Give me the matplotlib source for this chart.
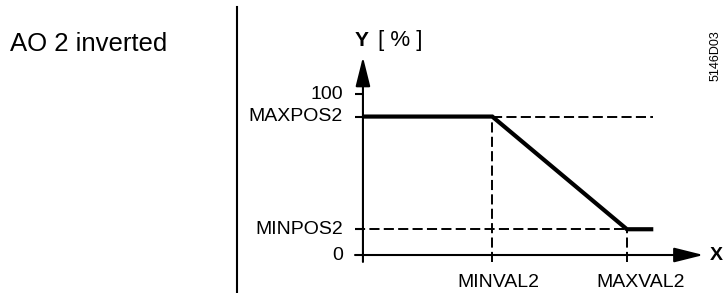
import matplotlib
matplotlib.use("Agg")
import matplotlib.pyplot as plt

plt.rcParams['font.family'] = ['Liberation Sans', 'DejaVu Sans']

# characteristic curve (x in % of MAXVAL2, y in %)
curve_x = [0, 49, 100, 110]
curve_y = [86, 86, 16, 16]

y_ticks = [0, 16, 86, 100]
y_labels = ['0', 'MINPOS2', 'MAXPOS2', '100']
x_ticks = [49, 100]
x_labels = ['MINVAL2', 'MAXVAL2']

minval, maxval = x_ticks
minpos, maxpos = 16, 86

fig = plt.figure(figsize=(7.28, 2.93), dpi=100)
ax = fig.add_axes([0, 0, 1, 1])
ax.set_xlim(-137.5, 138.3)
ax.set_ylim(-23.6, 158.4)
ax.axis('off')

# axes with arrows
arrow = dict(arrowstyle='-|>,head_length=18,head_width=4.5', lw=1.5,
             color='black', mutation_scale=1, shrinkA=0, shrinkB=0)
ax.annotate('', xy=(0, 123), xytext=(0, -4.3), arrowprops=arrow)
ax.annotate('', xy=(129, 0), xytext=(-3, 0), arrowprops=arrow)

# y ticks
for t in y_ticks[1:]:
    ax.plot([-3, 0], [t, t], color='black', lw=1.5, solid_capstyle='butt')
for t, lab in zip(y_ticks, y_labels):
    ax.text(-7.6, t, lab, ha='right', va='center', fontsize=14)

# helper dashed lines
dash = dict(color='black', lw=1.4, dashes=(5.2, 2.2))
ax.plot([minval, minval], [-4.3, maxpos], **dash)
ax.plot([maxval, maxval], [-4.3, minpos], **dash)
ax.plot([minval, 110], [maxpos, maxpos], **dash)
ax.plot([-3, maxval], [minpos, minpos], **dash)

# x tick labels
ax.text(minval + 2.3, -16.8, x_labels[0], ha='center', va='center', fontsize=14)
ax.text(maxval + 5.3, -16.8, x_labels[1], ha='center', va='center', fontsize=14)

# curve
ax.plot(curve_x, curve_y, color='black', lw=3, solid_capstyle='butt',
        solid_joinstyle='miter')

# axis titles
ax.text(-3.0, 133.5, 'Y', fontsize=15, fontweight='bold', ha='left', va='center')
ax.text(5.7, 133.5, '[ % ]', fontsize=16, ha='left', va='center')
ax.text(131.5, 0, 'X', fontsize=14, fontweight='bold', ha='left', va='center')

# separator
ax.plot([-47.7, -47.7], [-23.6, 154], color='black', lw=1.5)

fig.text(10 / 728, 1 - 44 / 293, 'AO 2 inverted', fontsize=18.5, ha='left', va='center')
fig.text(716 / 728, 1 - 56 / 293, '5146D03', fontsize=9, rotation=90,
         ha='center', va='center')

fig.savefig('out.png', dpi=100)
